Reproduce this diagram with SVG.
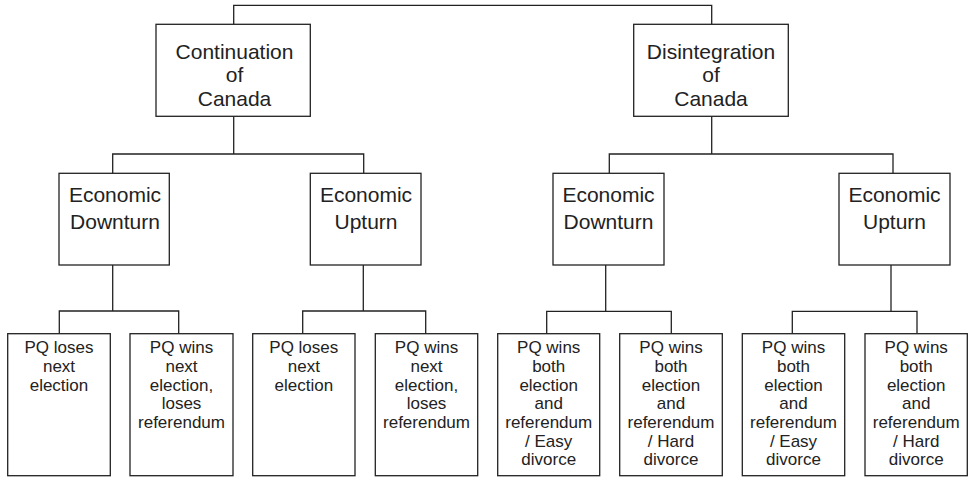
<svg xmlns="http://www.w3.org/2000/svg" width="970" height="477" viewBox="0 0 970 477">
<style>
.box{fill:#fff;stroke:#222;stroke-width:1.3}
.c{fill:none;stroke:#222;stroke-width:1.3}
text{font-family:"Liberation Sans",Arial,sans-serif;fill:#222;text-anchor:middle}
.l1{font-size:21px}
.l3{font-size:17px}
</style>
<rect width="970" height="477" fill="#fff"/>
<g id="connectors">
<polyline class="c" points="233.7,24 233.7,5.3 711.7,5.3 711.7,24"/>
<polyline class="c" points="233.7,116.3 233.7,154"/>
<polyline class="c" points="112.7,173.3 112.7,154 363.7,154 363.7,173.3"/>
<polyline class="c" points="711.7,116.3 711.7,154"/>
<polyline class="c" points="609.3,173.3 609.3,154 893,154 893,173.3"/>
<polyline class="c" points="112.7,265 112.7,311"/>
<polyline class="c" points="59.3,333.7 59.3,311 178.7,311 178.7,333.7"/>
<polyline class="c" points="363.3,265 363.3,311"/>
<polyline class="c" points="302.7,333.7 302.7,311 425.7,311 425.7,333.7"/>
<polyline class="c" points="605.7,265 605.7,311.3"/>
<polyline class="c" points="546.7,333.7 546.7,311.3 671.3,311.3 671.3,333.7"/>
<polyline class="c" points="891,265 891,311.3"/>
<polyline class="c" points="792.3,333.7 792.3,311.3 917,311.3 917,333.7"/>
</g>
<g id="continuation">
<rect class="box" x="156" y="24.3" width="154.3" height="92"/>
<text class="l1" x="234.5" y="58.7">Continuation</text>
<text class="l1" x="234.5" y="82">of</text>
<text class="l1" x="234.5" y="106">Canada</text>
</g>
<g id="disintegration">
<rect class="box" x="633.7" y="24.3" width="154.6" height="92"/>
<text class="l1" x="711" y="58.7">Disintegration</text>
<text class="l1" x="711" y="82">of</text>
<text class="l1" x="711" y="106">Canada</text>
</g>
<g id="c-downturn">
<rect class="box" x="59" y="173.3" width="110.3" height="91.7"/>
<text class="l1" x="115" y="201.7">Economic</text>
<text class="l1" x="115" y="228.7">Downturn</text>
</g>
<g id="c-upturn">
<rect class="box" x="310.3" y="173.3" width="110.7" height="91.7"/>
<text class="l1" x="366" y="201.7">Economic</text>
<text class="l1" x="366" y="228.7">Upturn</text>
</g>
<g id="d-downturn">
<rect class="box" x="553" y="173.3" width="111" height="91.7"/>
<text class="l1" x="608.5" y="201.7">Economic</text>
<text class="l1" x="608.5" y="228.7">Downturn</text>
</g>
<g id="d-upturn">
<rect class="box" x="839" y="173.3" width="111" height="91.7"/>
<text class="l1" x="894.5" y="201.7">Economic</text>
<text class="l1" x="894.5" y="228.7">Upturn</text>
</g>
<g id="leaf1">
<rect class="box" x="7.7" y="333.7" width="102.6" height="142"/>
<text class="l3" x="59" y="353.3">PQ loses</text>
<text class="l3" x="59" y="372">next</text>
<text class="l3" x="59" y="390.7">election</text>
</g>
<g id="leaf2">
<rect class="box" x="130" y="333.7" width="103" height="142"/>
<text class="l3" x="181.5" y="353.3">PQ wins</text>
<text class="l3" x="181.5" y="372">next</text>
<text class="l3" x="181.5" y="390.7">election,</text>
<text class="l3" x="181.5" y="409.3">loses</text>
<text class="l3" x="181.5" y="428">referendum</text>
</g>
<g id="leaf3">
<rect class="box" x="252.7" y="333.7" width="102.3" height="142"/>
<text class="l3" x="303.8" y="353.3">PQ loses</text>
<text class="l3" x="303.8" y="372">next</text>
<text class="l3" x="303.8" y="390.7">election</text>
</g>
<g id="leaf4">
<rect class="box" x="375.3" y="333.7" width="102.4" height="142"/>
<text class="l3" x="426.5" y="353.3">PQ wins</text>
<text class="l3" x="426.5" y="372">next</text>
<text class="l3" x="426.5" y="390.7">election,</text>
<text class="l3" x="426.5" y="409.3">loses</text>
<text class="l3" x="426.5" y="428">referendum</text>
</g>
<g id="leaf5">
<rect class="box" x="497.7" y="333.7" width="102" height="142"/>
<text class="l3" x="548.7" y="353.3">PQ wins</text>
<text class="l3" x="548.7" y="372">both</text>
<text class="l3" x="548.7" y="390.7">election</text>
<text class="l3" x="548.7" y="409.3">and</text>
<text class="l3" x="548.7" y="428">referendum</text>
<text class="l3" x="548.7" y="446.6">/ Easy</text>
<text class="l3" x="548.7" y="465.2">divorce</text>
</g>
<g id="leaf6">
<rect class="box" x="619.7" y="333.7" width="102.6" height="142"/>
<text class="l3" x="671" y="353.3">PQ wins</text>
<text class="l3" x="671" y="372">both</text>
<text class="l3" x="671" y="390.7">election</text>
<text class="l3" x="671" y="409.3">and</text>
<text class="l3" x="671" y="428">referendum</text>
<text class="l3" x="671" y="446.6">/ Hard</text>
<text class="l3" x="671" y="465.2">divorce</text>
</g>
<g id="leaf7">
<rect class="box" x="742.3" y="333.7" width="102.4" height="142"/>
<text class="l3" x="793.5" y="353.3">PQ wins</text>
<text class="l3" x="793.5" y="372">both</text>
<text class="l3" x="793.5" y="390.7">election</text>
<text class="l3" x="793.5" y="409.3">and</text>
<text class="l3" x="793.5" y="428">referendum</text>
<text class="l3" x="793.5" y="446.6">/ Easy</text>
<text class="l3" x="793.5" y="465.2">divorce</text>
</g>
<g id="leaf8">
<rect class="box" x="865" y="333.7" width="102.3" height="142"/>
<text class="l3" x="916.2" y="353.3">PQ wins</text>
<text class="l3" x="916.2" y="372">both</text>
<text class="l3" x="916.2" y="390.7">election</text>
<text class="l3" x="916.2" y="409.3">and</text>
<text class="l3" x="916.2" y="428">referendum</text>
<text class="l3" x="916.2" y="446.6">/ Hard</text>
<text class="l3" x="916.2" y="465.2">divorce</text>
</g>
</svg>
